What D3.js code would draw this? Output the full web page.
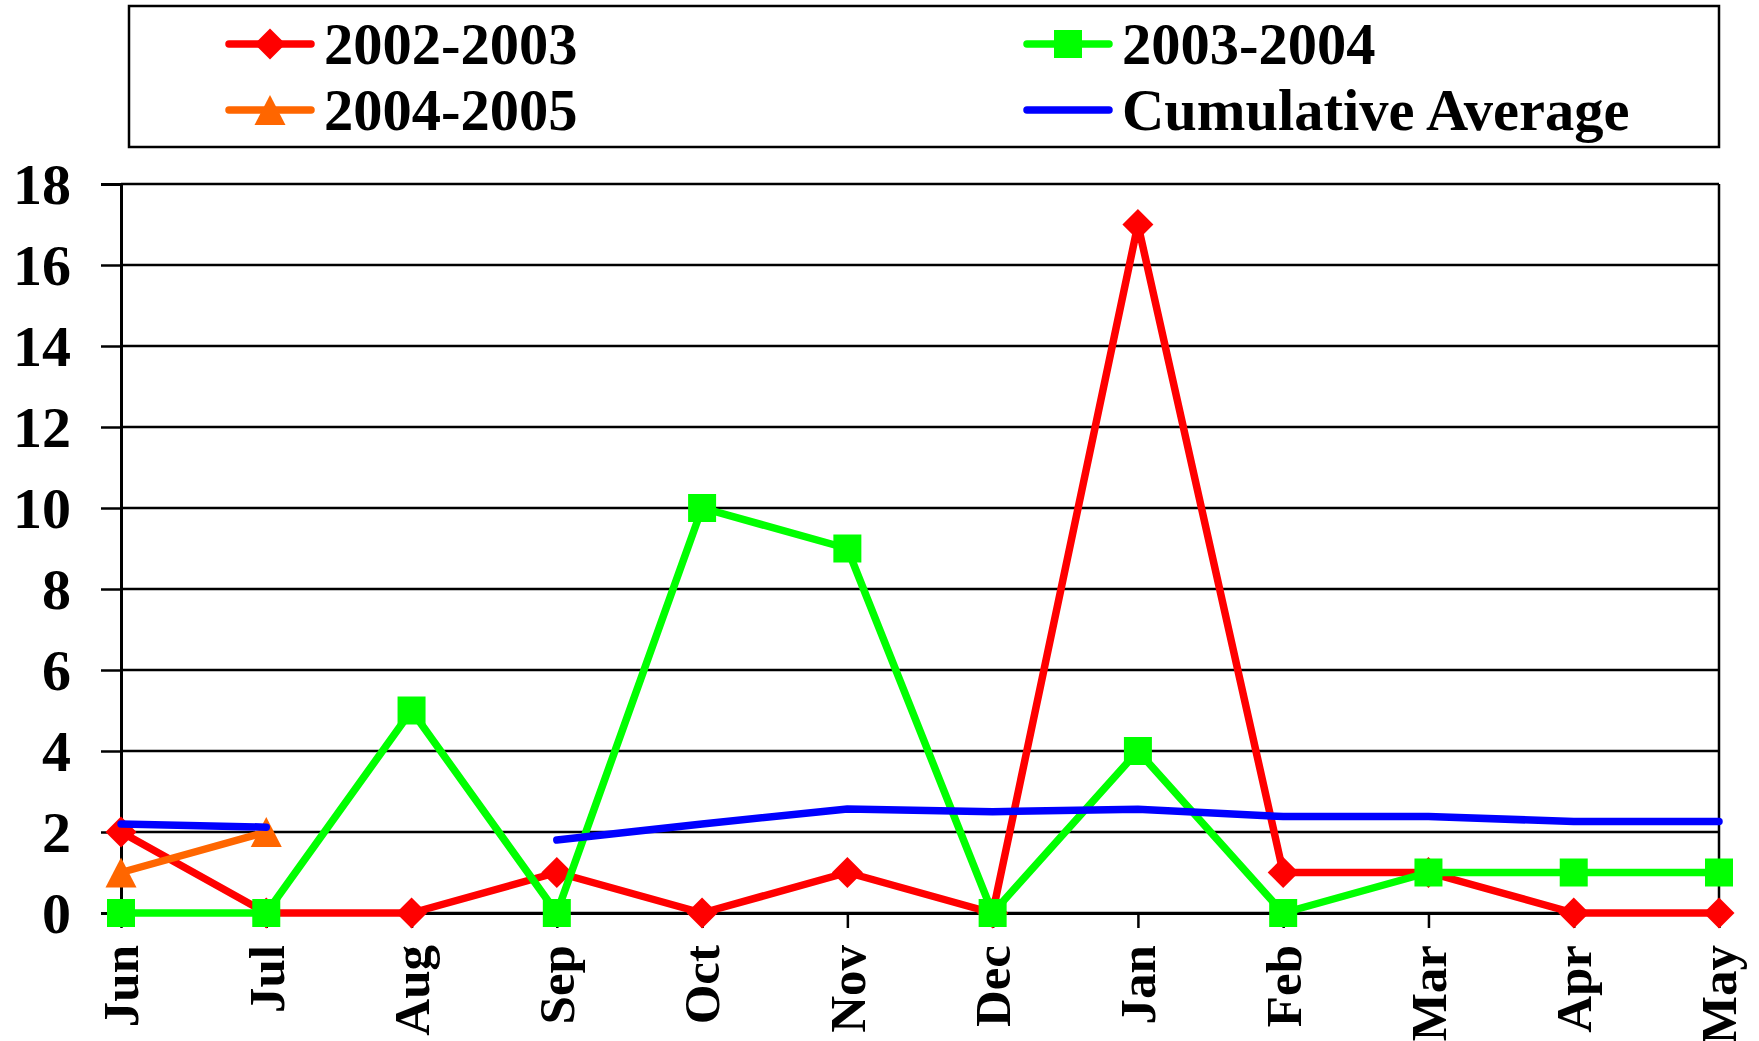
<!DOCTYPE html>
<html>
<head>
<meta charset="utf-8">
<script src="https://cdn.jsdelivr.net/npm/d3@7"></script>
<style>
  html, body { margin: 0; padding: 0; background: #fff; }
  svg text { font-family: "Liberation Serif", "Times New Roman", serif; font-weight: bold; fill: #000; }
</style>
</head>
<body>
<div id="wrapper"></div>
<script>
// Dados
const months = ["Jun", "Jul", "Aug", "Sep", "Oct", "Nov", "Dec", "Jan", "Feb", "Mar", "Apr", "May"];
const s2002 = [2, 0, 0, 1, 0, 1, 0, 17, 1, 1, 0, 0];
const s2003 = [0, 0, 5, 0, 10, 9, 0, 4, 0, 1, 1, 1];
const s2004 = [1, 2, null, null, null, null, null, null, null, null, null, null];
const cumAvg = [2.2, 2.12, null, 1.8, 2.2, 2.57, 2.5, 2.56, 2.38, 2.38, 2.26, 2.26];
const yTicks = [0, 2, 4, 6, 8, 10, 12, 14, 16, 18];

const seriesNames = ["2002-2003", "2003-2004", "2004-2005", "Cumulative Average"];

// marcadores centrados em (0,0)
const diamond = r => `M0,${-r}L${r},0L0,${r}L${-r},0Z`;
const square = s => `M${-s / 2},${-s / 2}h${s}v${s}h${-s}Z`;
const triangle = (w, h) => `M0,${-h / 2}L${w / 2},${h / 2}L${-w / 2},${h / 2}Z`;

const series = [
  { name: seriesNames[0], values: s2002, color: "#ff0000", marker: diamond(15.5) },
  { name: seriesNames[1], values: s2003, color: "#00ff00", marker: square(28) },
  { name: seriesNames[2], values: s2004, color: "#ff6600", marker: triangle(31, 30) },
  { name: seriesNames[3], values: cumAvg, color: "#0000ff", marker: null }
];

function draw() {
  const width = 1759, height = 1041;
  const plot = { left: 121, right: 1719, top: 184, bottom: 913 };

  const svg = d3.select("#wrapper")
    .append("svg")
      .attr("width", width)
      .attr("height", height);

  // Scales
  const x = d3.scalePoint().domain(months).range([plot.left, plot.right]);
  const y = d3.scaleLinear().domain([0, 18]).range([plot.bottom, plot.top]);

  // grade horizontal
  svg.append("g")
    .selectAll("line")
    .data(yTicks)
    .join("line")
      .attr("x1", plot.left)
      .attr("x2", plot.right)
      .attr("y1", d => y(d))
      .attr("y2", d => y(d))
      .attr("stroke", "#000")
      .attr("stroke-width", 2.5);

  // borda direita
  svg.append("line")
    .attr("x1", plot.right).attr("x2", plot.right)
    .attr("y1", plot.top).attr("y2", plot.bottom)
    .attr("stroke", "#000").attr("stroke-width", 2.5);

  // eixo y
  const yAxis = svg.append("g")
    .attr("transform", "translate(" + plot.left + ",0)")
    .call(d3.axisLeft(y).tickValues(yTicks).tickSize(20).tickPadding(30).tickFormat(d3.format("d")));
  yAxis.select(".domain").attr("stroke-width", 3);
  yAxis.selectAll(".tick line").attr("stroke-width", 2.5);
  yAxis.selectAll("text")
    .attr("font-size", 58)
    .attr("dy", "0.34em")
    .style("font-family", "'Liberation Serif', 'Times New Roman', serif")
    .style("font-weight", "bold");

  // eixo x
  const xAxis = svg.append("g")
    .attr("transform", "translate(0," + plot.bottom + ")")
    .call(d3.axisBottom(x).tickSize(15).tickSizeOuter(0));
  xAxis.select(".domain").attr("stroke-width", 3);
  xAxis.selectAll(".tick line").attr("stroke-width", 2.5);
  xAxis.selectAll("text")
    .attr("font-size", 51)
    .attr("transform", "rotate(-90)")
    .attr("text-anchor", "end")
    .attr("x", -32)
    .attr("y", 0)
    .attr("dy", "0.33em")
    .style("font-family", "'Liberation Serif', 'Times New Roman', serif")
    .style("font-weight", "bold");

  // linhas
  const line = d3.line()
    .defined(d => d != null)
    .x((d, i) => x(months[i]))
    .y(d => y(d));

  series.forEach(s => {
    svg.append("path")
      .attr("d", line(s.values))
      .attr("fill", "none")
      .attr("stroke", s.color)
      .attr("stroke-width", 7.5)
      .attr("stroke-linejoin", "round")
      .attr("stroke-linecap", "round");

    if (s.marker) {
      svg.append("g")
        .selectAll("path")
        .data(s.values.map((v, i) => ({ v, m: months[i] })).filter(d => d.v != null))
        .join("path")
          .attr("d", s.marker)
          .attr("transform", d => "translate(" + x(d.m) + "," + y(d.v) + ")")
          .attr("fill", s.color);
    }
  });

  // legenda
  const legend = svg.append("g");
  legend.append("rect")
    .attr("x", 129).attr("y", 6)
    .attr("width", 1719 - 129).attr("height", 141)
    .attr("fill", "#fff")
    .attr("stroke", "#000")
    .attr("stroke-width", 2.5);

  const legendPos = [
    { x: 229, y: 44 },
    { x: 1027, y: 44 },
    { x: 229, y: 110 },
    { x: 1027, y: 110 }
  ];

  series.forEach((s, i) => {
    const p = legendPos[i];
    const g = legend.append("g").attr("transform", "translate(" + p.x + "," + p.y + ")");
    g.append("line")
      .attr("x1", 0).attr("x2", 82)
      .attr("stroke", s.color)
      .attr("stroke-width", 7.5)
      .attr("stroke-linecap", "round");
    if (s.marker) {
      g.append("path")
        .attr("d", s.marker)
        .attr("transform", "translate(41,0)")
        .attr("fill", s.color);
    }
    g.append("text")
      .attr("x", 95)
      .attr("y", 0)
      .attr("dy", "0.34em")
      .attr("font-size", 58.5)
      .text(s.name);
  });
}
draw();
</script>
</body>
</html>
